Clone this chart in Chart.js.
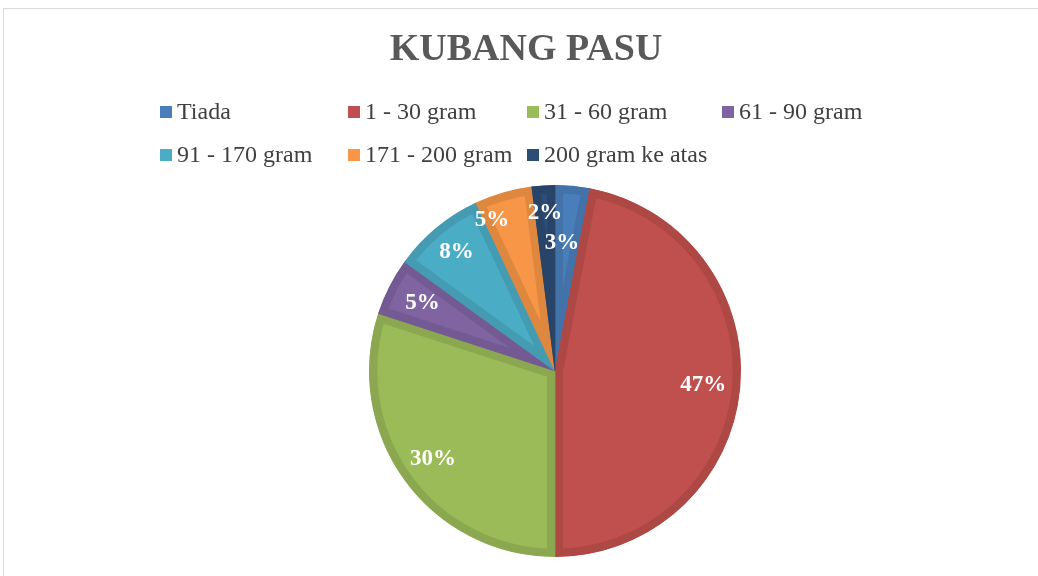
<!DOCTYPE html>
<html><head><meta charset="utf-8">
<script src="https://cdn.jsdelivr.net/npm/chart.js@4.4.1/dist/chart.umd.min.js"></script>
<style>
html,body{margin:0;padding:0;background:#fff;overflow:hidden;width:1038px;height:576px;}
#frame{position:absolute;left:3px;top:8px;width:1100px;height:700px;border:1px solid #d9d9d9;box-sizing:border-box;}
#wrap{position:absolute;left:0;top:0;width:1038px;height:576px;}
</style></head><body>
<div id="frame"></div>
<div id="wrap"><canvas id="c" width="1038" height="576"></canvas></div>
<script>
const chartTitle = 'KUBANG PASU';
const categories = ['Tiada', '1 - 30 gram', '31 - 60 gram', '61 - 90 gram', '91 - 170 gram', '171 - 200 gram', '200 gram ke atas'];
const percentages = [3, 47, 30, 5, 8, 5, 2];
const sliceColors = ['#4a7ebb', '#c0504d', '#9bbb59', '#8064a2', '#4bacc6', '#f79646', '#2c4d75'];
const sliceBorderColors = ['#4372a8', '#ad4845', '#8ba850', '#735a92', '#449bb2', '#de873f', '#284569'];

const FONT = "'Liberation Serif', 'Times New Roman', serif";

const headerPlugin = {
  id: 'header',
  afterDraw(chart, args, opts) {
    const ctx = chart.ctx;
    ctx.save();
    ctx.fillStyle = '#595959';
    ctx.font = 'bold 38px ' + FONT;
    ctx.textAlign = 'center';
    ctx.textBaseline = 'middle';
    ctx.fillText(chartTitle, opts.titleX, opts.titleY);
    ctx.font = '24px ' + FONT;
    ctx.textAlign = 'left';
    categories.forEach((cat, i) => {
      const col = i % opts.perRow;
      const row = Math.floor(i / opts.perRow);
      const x = opts.colX[col];
      const y = opts.rowY[row];
      ctx.fillStyle = sliceColors[i];
      ctx.fillRect(x, y - 6, 12, 12);
      ctx.fillStyle = '#404040';
      ctx.fillText(cat, x + 17, y + 1);
    });
    ctx.restore();
  }
};

const labelPlugin = {
  id: 'sliceLabels',
  afterDatasetsDraw(chart, args, opts) {
    const ctx = chart.ctx;
    const meta = chart.getDatasetMeta(0);
    ctx.save();
    ctx.fillStyle = '#ffffff';
    ctx.font = 'bold 23px ' + FONT;
    ctx.textAlign = 'center';
    ctx.textBaseline = 'middle';
    meta.data.forEach((arc, i) => {
      const p = arc.getProps(['x', 'y', 'startAngle', 'endAngle', 'outerRadius'], true);
      const adj = (opts.adjust && opts.adjust[i]) || {};
      const mid = (p.startAngle + p.endAngle) / 2 + (adj.da || 0) * Math.PI / 180;
      const r = p.outerRadius * (adj.rf || opts.radiusFactor);
      const v = chart.data.datasets[0].data[i];
      ctx.fillText(v + '%', p.x + Math.cos(mid) * r, p.y + Math.sin(mid) * r);
    });
    ctx.restore();
  }
};

new Chart(document.getElementById('c'), {
  type: 'pie',
  data: {
    labels: categories,
    datasets: [{
      data: percentages,
      backgroundColor: sliceColors,
      borderColor: sliceBorderColors,
      borderWidth: 8,
      borderAlign: 'inner',
      hoverOffset: 0
    }]
  },
  options: {
    responsive: false,
    animation: false,
    devicePixelRatio: 1,
    layout: { padding: { top: 185, bottom: 19, left: 72, right: 0 } },
    plugins: {
      legend: { display: false },
      title: { display: false },
      tooltip: { enabled: false },
      header: { titleX: 526, titleY: 50, perRow: 4, colX: [160, 348, 527, 722], rowY: [112, 155] },
      sliceLabels: { radiusFactor: 0.8, adjust: { 0: { rf: 0.69, da: -2.3 }, 5: { rf: 0.88, da: -6.4 }, 2: { rf: 0.81 }, 4: { rf: 0.83 }, 6: { rf: 0.85 } } }
    }
  },
  plugins: [headerPlugin, labelPlugin]
});
</script>
</body></html>
